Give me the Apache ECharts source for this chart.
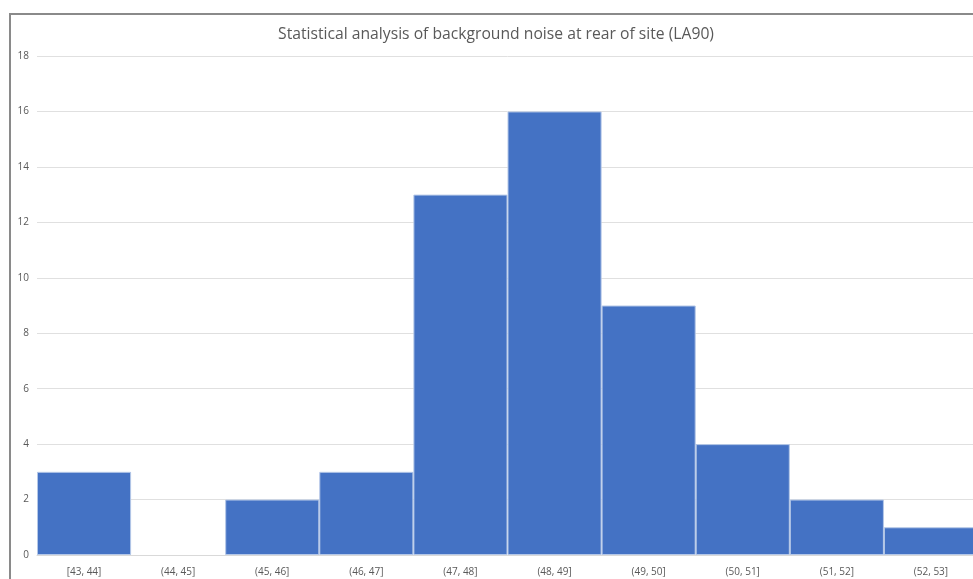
<!DOCTYPE html>
<html>
<head>
<meta charset="utf-8">
<script src="https://cdn.jsdelivr.net/npm/echarts@6/dist/echarts.min.js"></script>
<style>
  html, body { margin: 0; padding: 0; background: #ffffff; overflow: hidden; width: 973px; height: 579px; }
  #chart { width: 992px; height: 579px; }
</style>
</head>
<body>
<div id="chart"></div>
<script>
// Histogram bins (LA90, dB) and the number of measurements in each
const binLabels = ['[43, 44]', '(44, 45]', '(45, 46]', '(46, 47]', '(47, 48]',
                   '(48, 49]', '(49, 50]', '(50, 51]', '(51, 52]', '(52, 53]'];
const counts = [3, 0, 2, 3, 13, 16, 9, 4, 2, 1];
const yTicks = { min: 0, max: 18, step: 2 };

const chart = echarts.init(document.getElementById('chart'), null, { renderer: 'canvas' });

// empty bins get no outline so nothing is drawn on the baseline
const barData = counts.map(v => v === 0 ? { value: v, itemStyle: { borderWidth: 0 } } : v);

chart.setOption({
  animation: false,
  backgroundColor: '#ffffff',
  title: {
    text: 'Statistical analysis of background noise at rear of site (LA90)',
    left: 'center', top: 22,
    textStyle: { fontFamily: 'Open Sans', fontSize: 15.7, fontWeight: 'normal', color: '#595959' }
  },
  graphic: [{
    type: 'rect', silent: true, z: 100,
    shape: { x: 10, y: 14, width: 1000, height: 620 },
    style: { fill: 'none', stroke: '#8a8a8a', lineWidth: 2 }
  }],
  grid: { left: 37, top: 56, right: 14, bottom: 24, containLabel: false },
  xAxis: {
    type: 'category',
    data: binLabels,
    axisLine: { lineStyle: { color: '#d9d9d9' } },
    axisTick: { show: false },
    axisLabel: { color: '#595959', fontFamily: 'Open Sans', fontSize: 10, margin: 12, interval: 0 }
  },
  yAxis: {
    type: 'value',
    min: yTicks.min, max: yTicks.max, interval: yTicks.step,
    axisLine: { show: false },
    axisTick: { show: false },
    splitLine: { lineStyle: { color: '#e0e0e0' } },
    axisLabel: { color: '#595959', fontFamily: 'Open Sans', fontSize: 10, margin: 8 }
  },
  series: [{
    type: 'bar',
    data: barData,
    barCategoryGap: '0%',
    itemStyle: { color: '#4472c4', borderColor: '#b4c7e7', borderWidth: 1 }
  }]
});
</script>
</body>
</html>
